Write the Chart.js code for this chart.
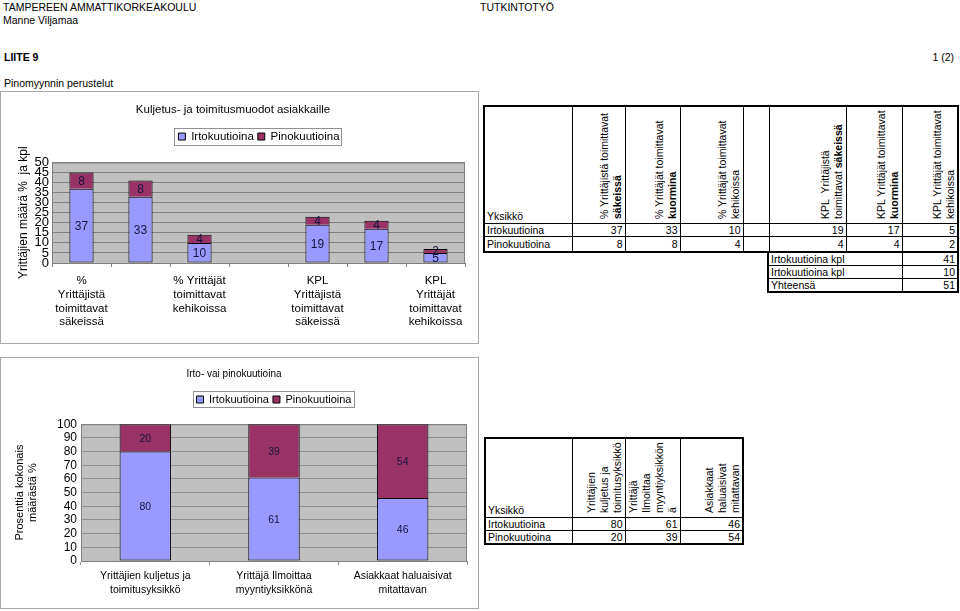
<!DOCTYPE html>
<html>
<head>
<meta charset="utf-8">
<script src="https://cdn.jsdelivr.net/npm/chart.js@4.4.1/dist/chart.umd.min.js"></script>
<style>
body { margin:0; width:960px; height:611px; position:relative; background:#fff; overflow:hidden;
       font-family:"Liberation Sans", Arial, sans-serif; color:#000; }
.txt { position:absolute; font-size:10.5px; line-height:13px; white-space:nowrap; }
.frame { position:absolute; left:0; width:477px; border:1px solid #a8a8a8; }
.frame canvas { display:block; }
table { position:absolute; border-collapse:collapse; table-layout:fixed; font-size:10.5px; border:2px solid #000; }
td, th { border:1px solid #000; padding:0 2px; line-height:12px; font-weight:normal; white-space:nowrap; overflow:hidden; }
th { position:relative; padding:0; }
td.n { text-align:right; }
td.yk { vertical-align:bottom; padding-bottom:1px; }
.rot { position:absolute; left:0; top:100%; transform-origin:0 0; transform:rotate(-90deg);
       display:flex; flex-direction:column; justify-content:flex-end; box-sizing:border-box;
       padding:0 0 1px 4px; text-align:left; line-height:13px; }
</style>
</head>
<body>
<div class="txt" style="left:3px;top:1px">TAMPEREEN AMMATTIKORKEAKOULU</div>
<div class="txt" style="left:3px;top:14px">Manne Viljamaa</div>
<div class="txt" style="left:480px;top:1px">TUTKINTOTYÖ</div>
<div class="txt" style="left:4px;top:51px;font-weight:bold">LIITE 9</div>
<div class="txt" style="right:6px;top:51px">1 (2)</div>
<div class="txt" style="left:4px;top:77px">Pinomyynnin perustelut</div>

<div class="frame" style="top:91px;height:251px"><canvas id="chart1" width="477" height="251"></canvas></div>
<div class="frame" style="top:357px;height:250px"><canvas id="chart2" width="477" height="250"></canvas></div>

<table id="table1" style="left:483px;top:105px;width:474px"></table>
<table id="table1b" style="left:767px;top:251px;width:190px"></table>
<table id="table2" style="left:484px;top:437px;width:258px"></table>

<script>
// kuvio 1: kuljetus- ja toimitusmuodot
const categories1 = [
    ['%', 'Yrittäjistä', 'toimittavat', 'säkeissä'],
    ['% Yrittäjät', 'toimittavat', 'kuormina'],
    ['% Yrittäjät', 'toimittavat', 'kehikoissa'],
    '',
    ['KPL', 'Yrittäjistä', 'toimittavat', 'säkeissä'],
    ['KPL', 'Yrittäjät', 'toimittavat', 'kuormina'],
    ['KPL', 'Yrittäjät', 'toimittavat', 'kehikoissa']
];
const irto1 = [37, 33, 10, null, 19, 17, 5];
const pino1 = [8, 8, 4, null, 4, 4, 2];
const heads1 = [
    ['% Yrittäjistä toimittavat', '<b>säkeissä</b>'],
    ['% Yrittäjät toimittavat', '<b>kuormina</b>'],
    ['% Yrittäjät toimittavat', 'kehikoissa'],
    [],
    ['KPL&nbsp; Yrittäjistä', 'toimittavat <b>säkeissä</b>'],
    ['KPL Yrittäjät toimittavat', '<b>kuormina</b>'],
    ['KPL Yrittäjät toimittavat', 'kehikoissa']
];
const totalLabels = ['Irtokuutioina kpl', 'Irtokuutioina kpl', 'Yhteensä'];
const totalValues = [41, 10, 51];

// kuvio 2: irto- vai pinokuutioina
const categories2 = [
    ['Yrittäjien kuljetus ja', 'toimitusyksikkö'],
    ['Yrittäjä Ilmoittaa', 'myyntiyksikkönä'],
    ['Asiakkaat haluaisivat', 'mitattavan']
];
const irto2 = [80, 61, 46];
const pino2 = [20, 39, 54];
const heads2 = [
    ['Yrittäjien', 'kuljetus ja', 'toimitusyksikkö'],
    ['Yrittäjä', 'Ilmoittaa', 'myyntiyksikkön', 'ä'],
    ['Asiakkaat', 'haluaisivat', 'mitattavan']
];

const seriesNames = ['Irtokuutioina', 'Pinokuutioina'];
const IRTO = '#9999ff';
const PINO = '#993366';

Chart.defaults.font.family = '"Liberation Sans", Arial, sans-serif';
Chart.defaults.color = '#000';

const plotBg = {
    id: 'plotBg',
    beforeDraw(chart) {
        const {ctx, chartArea: a} = chart;
        ctx.save();
        ctx.fillStyle = '#c0c0c0';
        ctx.fillRect(a.left, a.top, a.width, a.height);
        ctx.restore();
    },
    beforeDatasetsDraw(chart) {
        const {ctx, chartArea: a} = chart;
        ctx.save();
        ctx.strokeStyle = '#808080';
        ctx.lineWidth = 1;
        ctx.strokeRect(a.left + 0.5, a.top + 0.5, a.width - 1, a.height);
        ctx.restore();
    }
};

const valueLabels = {
    id: 'valueLabels',
    afterDatasetsDraw(chart, args, opts) {
        const {ctx} = chart;
        ctx.save();
        ctx.font = opts.font;
        ctx.fillStyle = opts.color;
        ctx.textAlign = 'center';
        ctx.textBaseline = 'middle';
        chart.data.datasets.forEach((ds, i) => {
            chart.getDatasetMeta(i).data.forEach((bar, j) => {
                const v = ds.data[j];
                if (v == null) return;
                ctx.fillText(String(v), bar.x, (bar.y + bar.base) / 2 + 1);
            });
        });
        ctx.restore();
    }
};

// legenda keskelle piirtoaluetta ja kehys ympärille
const legendBox = {
    id: 'legendBox',
    beforeDraw(chart) {
        const lg = chart.legend;
        const boxes = lg.legendHitBoxes;
        const l = Math.min(...boxes.map(b => b.left));
        const r = Math.max(...boxes.map(b => b.left + b.width));
        const dx = Math.round((chart.chartArea.left + chart.chartArea.right) / 2 - (l + r) / 2);
        lg.left += dx;
        lg.right += dx;
        boxes.forEach(b => { b.left += dx; });
    },
    afterDraw(chart) {
        const boxes = chart.legend.legendHitBoxes;
        const l = Math.min(...boxes.map(b => b.left));
        const r = Math.max(...boxes.map(b => b.left + b.width));
        const t = Math.min(...boxes.map(b => b.top));
        const h = Math.max(...boxes.map(b => b.height));
        const ctx = chart.ctx;
        ctx.save();
        ctx.strokeStyle = '#909090';
        ctx.lineWidth = 1;
        ctx.strokeRect(Math.round(l - 4) + 0.5, Math.round(t - 3) + 0.5, Math.round(r - l + 6), Math.round(h + 5));
        ctx.restore();
    }
};

function barSets(a, b, pct) {
    return [a, b].map((d, i) => ({
        label: seriesNames[i],
        data: d,
        backgroundColor: i === 0 ? IRTO : PINO,
        borderColor: '#000',
        borderWidth: 1,
        borderSkipped: i === 0 ? false : 'start',
        barPercentage: pct,
        categoryPercentage: 1
    }));
}

// tyhjä väli legendan ja piirtoalueen väliin
const spacer = (h) => ({ display: true, text: '', weight: 500, font: { size: 1 }, padding: { top: 0, bottom: h } });

new Chart(document.getElementById('chart1'), {
    type: 'bar',
    data: { labels: categories1, datasets: barSets(irto1, pino1, 0.41) },
    options: {
        responsive: false,
        animation: false,
        layout: { padding: { top: 2, right: 13, bottom: 0, left: 0 } },
        plugins: {
            title: { display: true, text: 'Kuljetus- ja toimitusmuodot asiakkaille', color: '#000',
                     font: { size: 11.5, weight: 'normal' }, padding: { top: 9, bottom: 10 } },
            subtitle: spacer(9),
            legend: { labels: { boxWidth: 7, boxHeight: 7, font: { size: 11.5 }, padding: 4 } },
            tooltip: { enabled: false },
            valueLabels: { font: '12px "Liberation Sans", Arial', color: '#14143c' }
        },
        scales: {
            x: {
                stacked: true,
                grid: { offset: true, drawOnChartArea: false, drawTicks: true, tickLength: 4, color: '#808080' },
                border: { color: '#808080' },
                ticks: { autoSkip: false, maxRotation: 0, font: { size: 11.5 }, padding: 7,
                         callback(v, i) { return i % 2 === 0 ? this.getLabelForValue(v) : ''; } },
                afterFit: s => { s.height = 80; }
            },
            y: {
                stacked: true, min: 0, max: 50,
                ticks: { stepSize: 5, autoSkip: false, font: { size: 13 }, padding: 3 },
                grid: { color: '#808080', drawTicks: false },
                border: { color: '#808080' },
                title: { display: true, text: 'Yrittäjien määrä %  ja kpl', font: { size: 12 }, padding: { top: 15 } },
                afterFit: s => { s.width = 51; }
            }
        }
    },
    plugins: [plotBg, valueLabels, legendBox]
});

new Chart(document.getElementById('chart2'), {
    type: 'bar',
    data: { labels: categories2, datasets: barSets(irto2, pino2, 0.4) },
    options: {
        responsive: false,
        animation: false,
        layout: { padding: { top: 0, right: 11, bottom: 0, left: 0 } },
        plugins: {
            title: { display: true, text: 'Irto- vai pinokuutioina', color: '#000',
                     font: { size: 10, weight: 'normal' }, padding: { top: 10, bottom: 10 } },
            subtitle: spacer(8),
            legend: { labels: { boxWidth: 7, boxHeight: 7, font: { size: 11 }, padding: 4 } },
            tooltip: { enabled: false },
            valueLabels: { font: '10.5px "Liberation Sans", Arial', color: '#14143c' }
        },
        scales: {
            x: {
                stacked: true,
                grid: { offset: true, drawOnChartArea: false, drawTicks: true, tickLength: 4, color: '#909090' },
                border: { color: '#909090' },
                ticks: { autoSkip: false, maxRotation: 0, font: { size: 10.5, lineHeight: 1.35 }, padding: 4 },
                afterFit: s => { s.height = 47; }
            },
            y: {
                stacked: true, min: 0, max: 100,
                ticks: { stepSize: 10, autoSkip: false, font: { size: 12 }, padding: 4 },
                grid: { color: '#909090', drawTicks: false },
                border: { color: '#909090' },
                title: { display: true, text: ['Prosenttia kokonais', 'määrästä %'], font: { size: 11 }, padding: { top: 12 } },
                afterFit: s => { s.width = 80; }
            }
        }
    },
    plugins: [plotBg, valueLabels, legendBox]
});

// taulukot
function buildTable(el, widths, heads, rows, headH, rowHs) {
    let html = '<colgroup>' + widths.map(w => `<col style="width:${w}px">`).join('') + '</colgroup>';
    html += `<tr style="height:${headH}px"><td class="yk">Yksikkö</td>` +
        heads.map(h => `<th><div class="rot">${h.map(l => `<div>${l}</div>`).join('')}</div></th>`).join('') + '</tr>';
    rows.forEach((r, k) => {
        html += `<tr style="height:${rowHs[k]}px"><td>${r[0]}</td>` +
            r[1].map(v => `<td class="n">${v == null ? '' : v}</td>`).join('') + '</tr>';
    });
    el.innerHTML = html;
}

buildTable(document.getElementById('table1'), [88, 53, 55, 63, 26, 77, 56, 56], heads1,
    [[seriesNames[0], irto1], [seriesNames[1], pino1]], 117, [13, 16]);
buildTable(document.getElementById('table2'), [87, 53, 55, 63], heads2,
    [[seriesNames[0], irto2], [seriesNames[1], pino2]], 79, [12, 14]);

document.getElementById('table1b').innerHTML =
    '<colgroup><col style="width:134px"><col style="width:56px"></colgroup>' +
    totalLabels.map((t, i) => `<tr style="height:13px"><td>${t}</td><td class="n">${totalValues[i]}</td></tr>`).join('');

document.querySelectorAll('.rot').forEach(d => {
    const th = d.parentElement;
    d.style.width = th.clientHeight + 'px';
    d.style.height = th.clientWidth + 'px';
});
</script>
</body>
</html>
